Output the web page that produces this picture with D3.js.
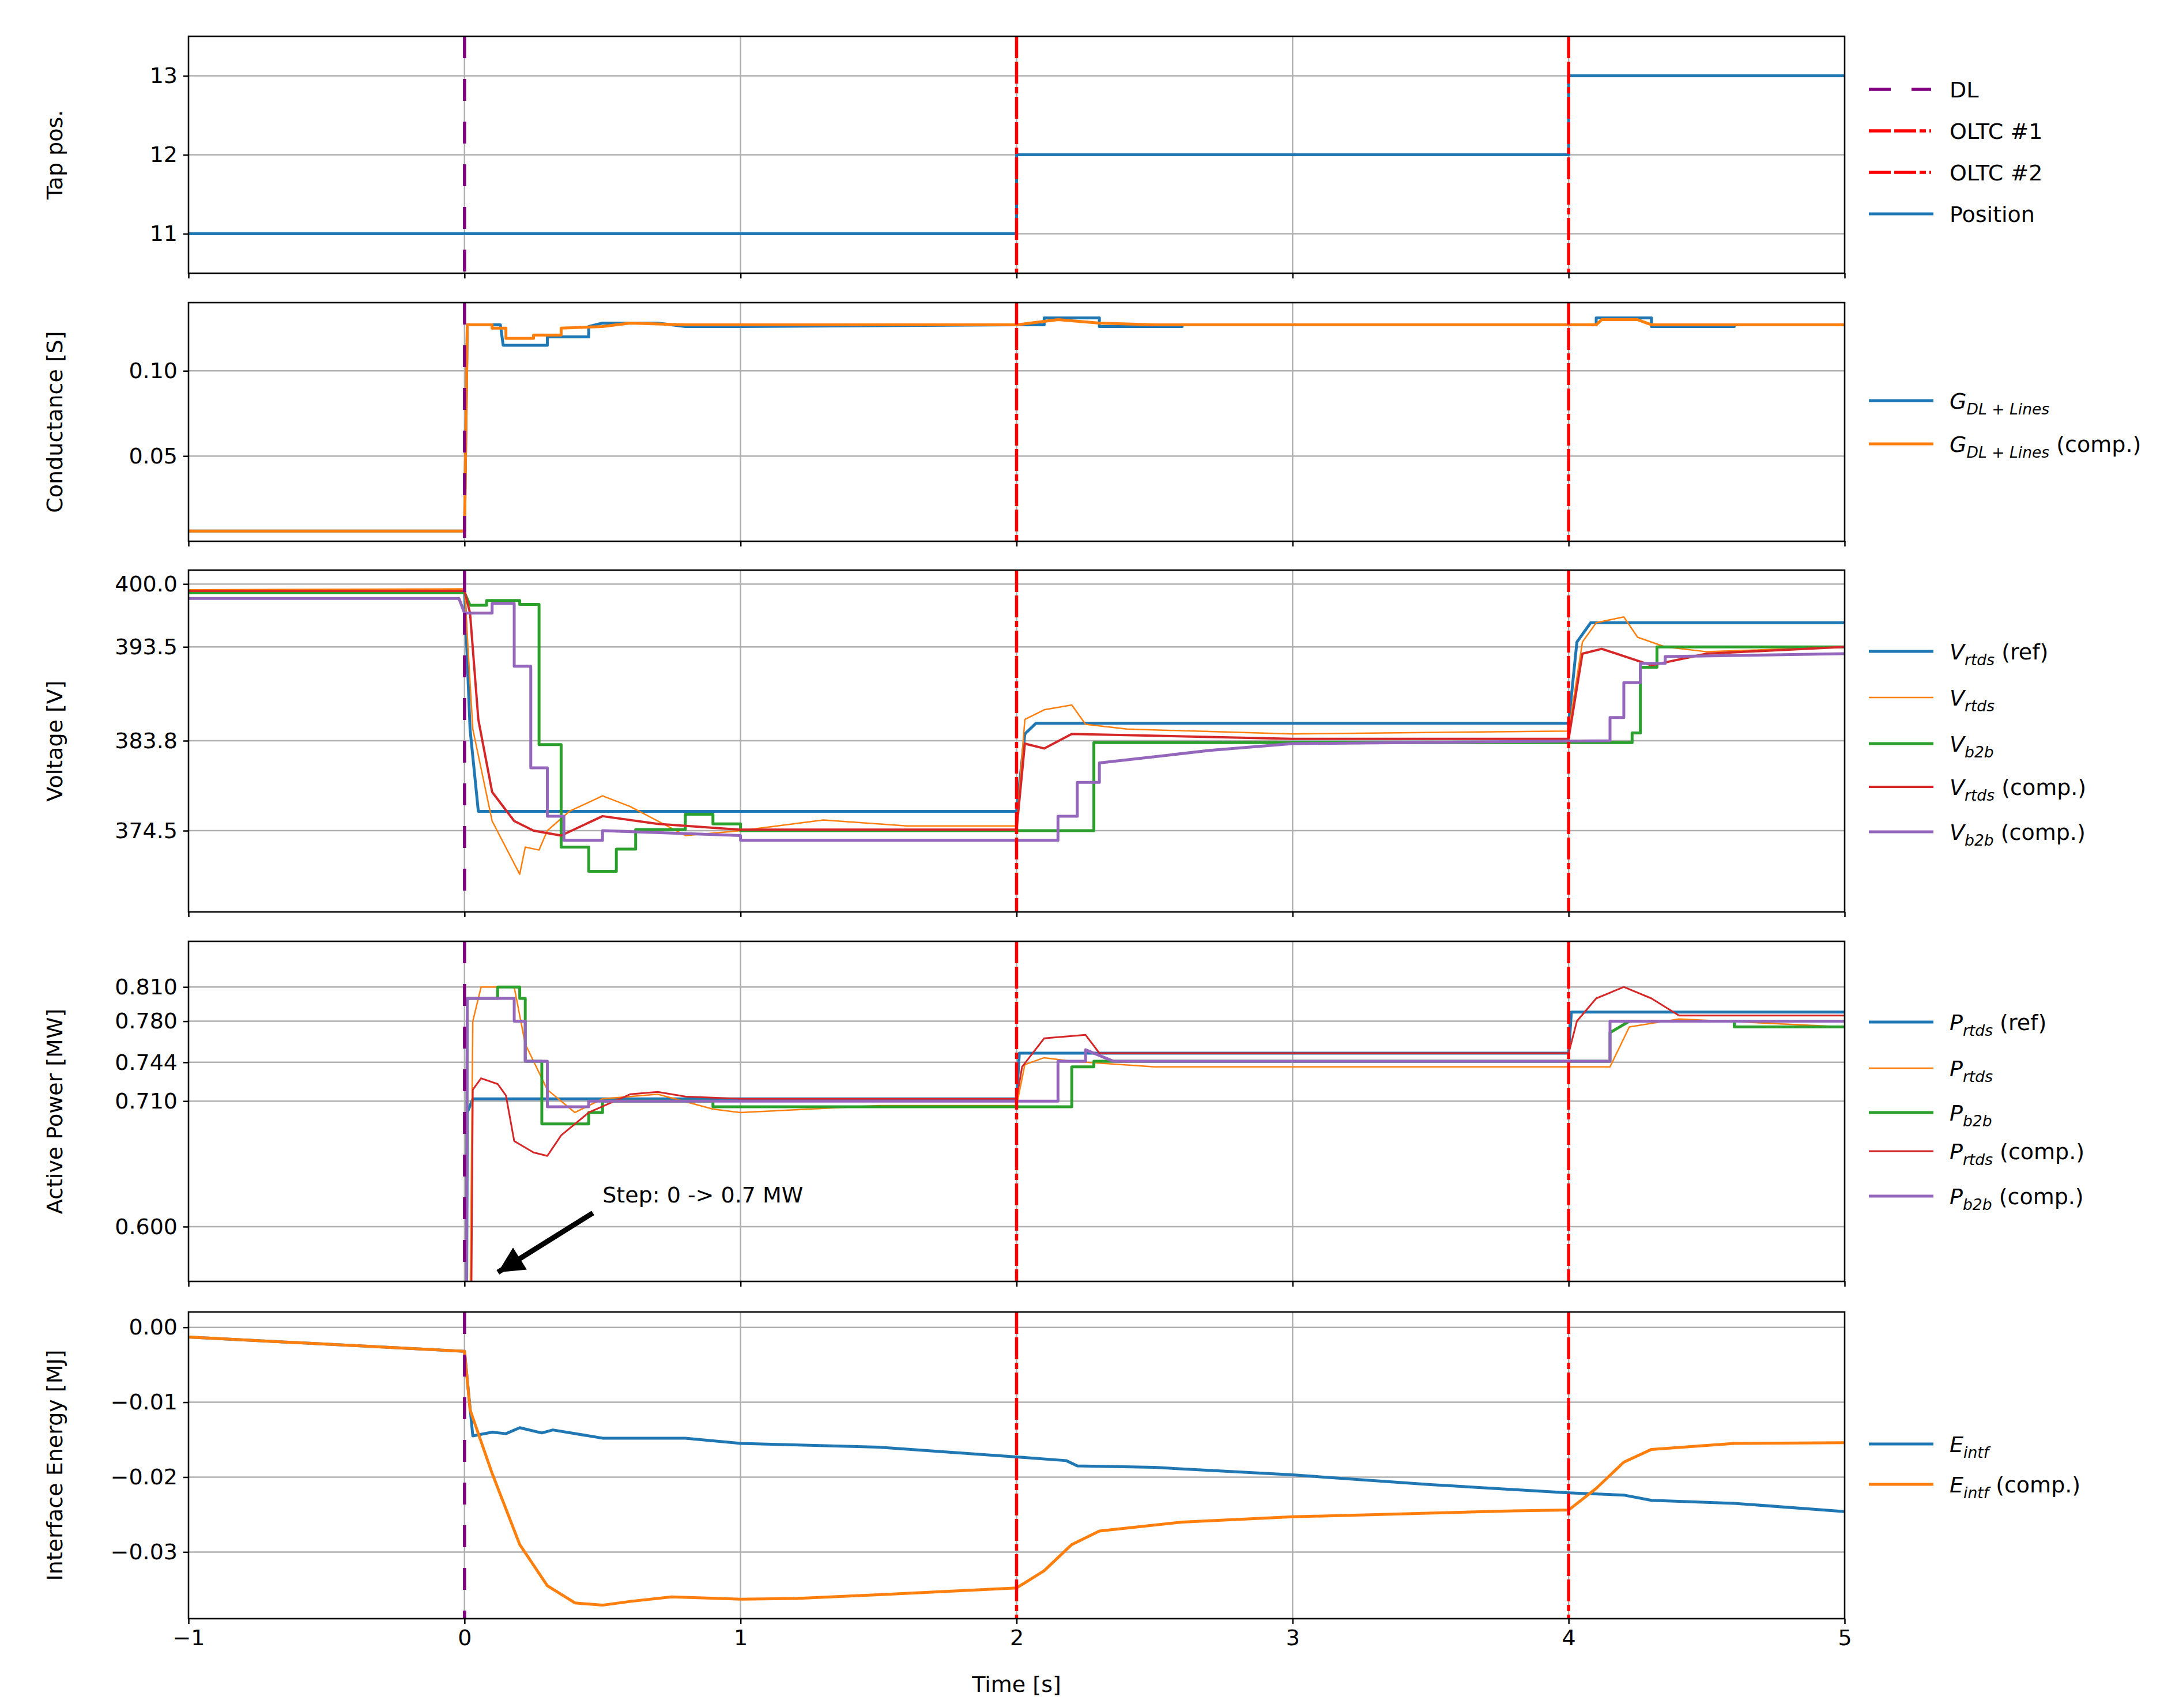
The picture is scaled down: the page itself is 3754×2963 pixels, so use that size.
<!DOCTYPE html>
<html><head><meta charset="utf-8">
<script src="https://cdn.jsdelivr.net/npm/d3@7"></script>
<style>body{margin:0;background:#fff}text{font-family:"DejaVu Sans",sans-serif}</style>
</head><body>
<svg id="c" width="3754" height="2963"></svg>
<script>
// ---- data ----
const xTicks = [-1, 0, 1, 2, 3, 4, 5];
const events = [{t: 0, name: "DL"}, {t: 2, name: "OLTC #1"}, {t: 4, name: "OLTC #2"}];

const tapPos = [[-1,11],[2,11],[2,12],[4,12],[4,13],[5,13]];

const gBlue = [[-1,0.006],[0,0.006],[0.01,0.127],[0.13,0.127],[0.14,0.115],[0.3,0.115],[0.3,0.12],[0.45,0.12],[0.45,0.126],[0.5,0.128],[0.7,0.128],[0.8,0.126],[1.0,0.126],[2.0,0.127],[2.1,0.127],[2.1,0.131],[2.3,0.131],[2.3,0.126],[2.6,0.126],[2.6,0.127],[4.1,0.127],[4.1,0.131],[4.3,0.131],[4.3,0.126],[4.6,0.126],[4.6,0.127],[5,0.127]];
const gOrange = [[-1,0.006],[0,0.006],[0.01,0.127],[0.1,0.127],[0.1,0.125],[0.15,0.125],[0.15,0.119],[0.25,0.119],[0.25,0.121],[0.35,0.121],[0.35,0.125],[0.5,0.126],[0.6,0.128],[0.8,0.127],[2.0,0.127],[2.05,0.128],[2.15,0.130],[2.3,0.128],[2.5,0.127],[4.1,0.127],[4.12,0.130],[4.25,0.130],[4.3,0.127],[5,0.127]];

const vTicks = [400.0, 393.5, 383.8, 374.5];
const vRef = [[-1,399.3],[0,399.3],[0.02,385],[0.05,376.5],[2.0,376.5],[2.03,384.5],[2.07,385.6],[4.0,385.6],[4.03,394],[4.08,396],[5,396]];
const vRtds = [[-1,399.4],[0,399.5],[0.03,385],[0.1,375.5],[0.2,370],[0.22,372.8],[0.27,372.5],[0.3,374.5],[0.38,376.5],[0.5,378.1],[0.6,377],[0.8,374],[1.0,374.5],[1.3,375.6],[1.6,375],[2.0,375],[2.03,386],[2.1,387],[2.2,387.5],[2.25,385.5],[2.4,385],[3.0,384.5],[4.0,384.8],[4.05,394],[4.1,396],[4.2,396.6],[4.25,394.5],[4.35,393.5],[4.5,393],[5,393.5]];
const vB2b = [[-1,399.1],[0,399.1],[0.02,397.8],[0.08,397.8],[0.08,398.3],[0.2,398.3],[0.2,397.9],[0.27,397.9],[0.27,383.4],[0.35,383.4],[0.35,372.8],[0.45,372.8],[0.45,370.3],[0.55,370.3],[0.55,372.6],[0.62,372.6],[0.62,374.6],[0.8,374.6],[0.8,376.2],[0.9,376.2],[0.9,375.2],[1.0,375.2],[1.0,374.5],[2.28,374.5],[2.28,383.6],[4.23,383.6],[4.23,384.6],[4.26,384.6],[4.26,391.4],[4.32,391.4],[4.32,393.5],[5,393.5]];
const vRtdsC = [[-1,399.3],[0,399.3],[0.02,397],[0.05,386],[0.1,378.5],[0.18,375.5],[0.25,374.5],[0.35,374],[0.5,376],[0.7,375.2],[1.0,374.6],[2.0,374.6],[2.03,383.5],[2.1,383],[2.2,384.5],[3.0,384],[4.0,384],[4.05,392.8],[4.12,393.3],[4.3,391.6],[4.5,392.8],[5,393.5]];
const vB2bC = [[-1,398.5],[-0.02,398.5],[0.0,397],[0.1,397],[0.1,398],[0.18,398],[0.18,391.5],[0.24,391.5],[0.24,381],[0.3,381],[0.3,376],[0.36,376],[0.36,373.5],[0.5,373.5],[0.5,374.5],[1.0,374],[1.0,373.5],[2.15,373.5],[2.15,376],[2.22,376],[2.22,379.5],[2.3,379.5],[2.3,381.5],[2.7,382.8],[3.0,383.5],[4.15,383.8],[4.15,386.2],[4.2,386.2],[4.2,389.8],[4.26,389.8],[4.26,391.8],[4.35,391.8],[4.35,392.5],[5,392.8]];

const pTicks = [0.810, 0.780, 0.744, 0.710, 0.600];
const pRef = [[-1,0],[0,0],[0.01,0.700],[0.03,0.712],[2.0,0.712],[2.01,0.752],[4.0,0.752],[4.01,0.788],[5,0.788]];
const pRtds = [[-1,0],[0,0],[0.03,0.78],[0.06,0.81],[0.18,0.81],[0.22,0.76],[0.3,0.72],[0.4,0.70],[0.5,0.712],[0.7,0.716],[0.9,0.703],[1.0,0.700],[1.5,0.706],[2.0,0.706],[2.03,0.742],[2.1,0.748],[2.2,0.745],[2.5,0.740],[4.15,0.740],[4.22,0.775],[4.4,0.782],[5,0.775]];
const pB2b = [[-1,0],[0,0],[0.01,0.80],[0.12,0.80],[0.12,0.81],[0.2,0.81],[0.2,0.80],[0.22,0.80],[0.22,0.745],[0.28,0.745],[0.28,0.69],[0.45,0.69],[0.45,0.70],[0.5,0.70],[0.5,0.71],[0.9,0.71],[0.9,0.705],[2.2,0.705],[2.2,0.74],[2.28,0.74],[2.28,0.745],[4.15,0.745],[4.15,0.77],[4.22,0.78],[4.6,0.78],[4.6,0.775],[5,0.775]];
const pRtdsC = [[-1,0],[0.01,0],[0.03,0.72],[0.06,0.73],[0.12,0.725],[0.15,0.715],[0.18,0.675],[0.25,0.665],[0.3,0.662],[0.35,0.68],[0.45,0.70],[0.6,0.716],[0.7,0.718],[0.8,0.714],[1.0,0.712],[2.0,0.712],[2.02,0.74],[2.1,0.765],[2.25,0.768],[2.3,0.752],[4.0,0.752],[4.03,0.78],[4.1,0.80],[4.2,0.81],[4.3,0.80],[4.4,0.785],[5,0.785]];
const pB2bC = [[-1,0],[0,0],[0.01,0.80],[0.18,0.80],[0.18,0.78],[0.22,0.78],[0.22,0.745],[0.3,0.745],[0.3,0.705],[0.45,0.705],[0.45,0.71],[2.15,0.71],[2.15,0.745],[2.25,0.745],[2.25,0.755],[2.35,0.745],[4.15,0.745],[4.15,0.78],[5,0.78]];

const eTicks = [0.00, -0.01, -0.02, -0.03];
const eIntf = [[-1,-0.0013],[0,-0.0032],[0.03,-0.0145],[0.1,-0.014],[0.15,-0.0142],[0.2,-0.0134],[0.28,-0.0141],[0.32,-0.0137],[0.5,-0.0148],[0.8,-0.0148],[1.0,-0.0155],[1.5,-0.016],[2.0,-0.0173],[2.18,-0.0178],[2.22,-0.0185],[2.5,-0.0187],[3.0,-0.0197],[3.5,-0.021],[4.0,-0.0221],[4.2,-0.0224],[4.3,-0.0231],[4.6,-0.0235],[5,-0.0246]];
const eIntfC = [[-1,-0.0013],[0,-0.0032],[0.02,-0.011],[0.1,-0.0195],[0.2,-0.029],[0.3,-0.0345],[0.4,-0.0368],[0.5,-0.0371],[0.6,-0.0366],[0.75,-0.036],[1.0,-0.0363],[1.2,-0.0362],[1.5,-0.0357],[2.0,-0.0348],[2.1,-0.0325],[2.2,-0.029],[2.3,-0.0272],[2.6,-0.026],[3.0,-0.0253],[3.8,-0.0245],[4.0,-0.0244],[4.1,-0.0215],[4.2,-0.018],[4.3,-0.0163],[4.6,-0.0155],[5,-0.0154]];

// ---- layout ----
const C = {blue:"#1f77b4", orange:"#ff7f0e", green:"#2ca02c", red:"#d62728", purple:"#9467bd"};
const left = 327, right = 3200, fs = 38, sub = 10;
const svg = d3.select("#c");
const x = d3.scaleLinear().domain([-1, 5]).range([left, right]);
const fmtMinus = s => s.replace("-", "\u2212");

const panels = [
  {top:63, bottom:474, dom:[10.5,13.5], ticks:[11,12,13], fmt:d3.format("d"), label:"Tap pos.",
   series:[{d:tapPos, c:C.blue, w:5, name:[["Position"]]}],
   legendY:[155,227,299,371], events:true},
  {top:525, bottom:939, dom:[0,0.14], ticks:[0.05,0.10], fmt:d3.format(".2f"), label:"Conductance [S]",
   series:[{d:gBlue, c:C.blue, w:5, name:[["G","i"],["DL + Lines","s"]]},
           {d:gOrange, c:C.orange, w:5, name:[["G","i"],["DL + Lines","s"],[" (comp.)"]]}],
   legendY:[695,770]},
  {top:989, bottom:1582, dom:[366.1,401.44], ticks:vTicks, fmt:d3.format(".1f"), label:"Voltage [V]",
   series:[{d:vRef, c:C.blue, w:5, name:[["V","i"],["rtds","s"],[" (ref)"]]},
           {d:vRtds, c:C.orange, w:2.5, name:[["V","i"],["rtds","s"]]},
           {d:vB2b, c:C.green, w:5, name:[["V","i"],["b2b","s"]]},
           {d:vRtdsC, c:C.red, w:4, name:[["V","i"],["rtds","s"],[" (comp.)"]]},
           {d:vB2bC, c:C.purple, w:5, name:[["V","i"],["b2b","s"],[" (comp.)"]]}],
   legendY:[1130,1210,1290,1365,1443]},
  {top:1633, bottom:2223, dom:[0.552,0.850], ticks:pTicks, fmt:d3.format(".3f"), label:"Active Power [MW]",
   series:[{d:pRef, c:C.blue, w:5, name:[["P","i"],["rtds","s"],[" (ref)"]]},
           {d:pRtds, c:C.orange, w:2.5, name:[["P","i"],["rtds","s"]]},
           {d:pB2b, c:C.green, w:5, name:[["P","i"],["b2b","s"]]},
           {d:pRtdsC, c:C.red, w:3, name:[["P","i"],["rtds","s"],[" (comp.)"]]},
           {d:pB2bC, c:C.purple, w:5, name:[["P","i"],["b2b","s"],[" (comp.)"]]}],
   legendY:[1773,1853,1930,1997,2075]},
  {top:2276, bottom:2808, dom:[-0.0389,0.00205], ticks:eTicks, fmt:v => fmtMinus(d3.format(".2f")(v)), label:"Interface Energy [MJ]",
   series:[{d:eIntf, c:C.blue, w:5, name:[["E","i"],["intf","s"]]},
           {d:eIntfC, c:C.orange, w:5, name:[["E","i"],["intf","s"],[" (comp.)"]]}],
   legendY:[2505,2575], xAxis:true}
];

function legendText(g, parts, lx, ly) {
  const t = g.append("text").attr("x", lx).attr("y", ly + fs * 0.36).attr("font-size", fs);
  let lowered = false;
  parts.forEach(p => {
    const s = t.append("tspan").text(p[0]);
    if (p[1] === "s") {
      s.attr("font-style", "italic").attr("font-size", fs * 0.7).attr("dy", sub);
      lowered = true;
    } else {
      if (p[1] === "i") s.attr("font-style", "italic");
      if (lowered) { s.attr("dy", -sub); lowered = false; }
    }
  });
}

const evStyle = e => e.t === 0 ? {c:"purple", dash:"38,36"} : {c:"red", dash:"38,6,38,6,11,6"};

panels.forEach((p, pi) => {
  const y = d3.scaleLinear().domain(p.dom).range([p.bottom, p.top]);
  const g = svg.append("g");
  const clipId = "clip" + pi;
  g.append("clipPath").attr("id", clipId).append("rect")
    .attr("x", left).attr("y", p.top).attr("width", right - left).attr("height", p.bottom - p.top);

  // grid
  g.append("g").selectAll("line").data(xTicks.slice(1, -1)).join("line")
    .attr("x1", d => x(d)).attr("x2", d => x(d)).attr("y1", p.top).attr("y2", p.bottom)
    .attr("stroke", "#b0b0b0").attr("stroke-width", 2.5);
  g.append("g").selectAll("line").data(p.ticks).join("line")
    .attr("x1", left).attr("x2", right).attr("y1", d => y(d)).attr("y2", d => y(d))
    .attr("stroke", "#b0b0b0").attr("stroke-width", 2.5);

  const plot = g.append("g").attr("clip-path", `url(#${clipId})`);
  const line = d3.line().x(d => x(d[0])).y(d => y(d[1]));
  p.series.forEach(s => plot.append("path").attr("d", line(s.d)).attr("fill", "none")
    .attr("stroke", s.c).attr("stroke-width", s.w).attr("stroke-linejoin", "round"));

  events.forEach(e => {
    const st = evStyle(e);
    plot.append("line").attr("x1", x(e.t)).attr("x2", x(e.t)).attr("y1", p.top).attr("y2", p.bottom)
      .attr("stroke", st.c).attr("stroke-width", 5.5).attr("stroke-dasharray", st.dash);
  });

  // axes
  const ya = g.append("g").attr("transform", `translate(${left},0)`)
    .call(d3.axisLeft(y).tickValues(p.ticks).tickFormat(p.fmt).tickSize(9).tickPadding(10));
  ya.select(".domain").remove();
  ya.selectAll("line").attr("stroke-width", 2.5);
  ya.selectAll("text").attr("font-size", fs).attr("font-family", "DejaVu Sans");
  const xa = g.append("g").attr("transform", `translate(0,${p.bottom})`)
    .call(d3.axisBottom(x).tickValues(xTicks).tickFormat(p.xAxis ? (d => fmtMinus(String(d))) : "").tickSize(9).tickPadding(10));
  xa.select(".domain").remove();
  xa.selectAll("line").attr("stroke-width", 2.5);
  xa.selectAll("text").attr("font-size", fs).attr("font-family", "DejaVu Sans");

  g.append("rect").attr("x", left).attr("y", p.top).attr("width", right - left).attr("height", p.bottom - p.top)
    .attr("fill", "none").attr("stroke", "#000").attr("stroke-width", 2.6);

  g.append("text").attr("transform", `translate(${108},${(p.top + p.bottom) / 2}) rotate(-90)`)
    .attr("text-anchor", "middle").attr("font-size", fs).text(p.label);

  // legend
  const lg = svg.append("g");
  let items = p.series.map(s => ({c:s.c, w:s.w, dash:null, name:s.name}));
  if (p.events) items = events.map(e => ({c:evStyle(e).c, w:5.5, dash:evStyle(e).dash, name:[[e.name]]})).concat(items);
  items.forEach((it, i) => {
    const ly = p.legendY[i];
    lg.append("line").attr("x1", 3242).attr("x2", it.dash ? 3350 : 3354).attr("y1", ly).attr("y2", ly)
      .attr("stroke", it.c).attr("stroke-width", it.w).attr("stroke-dasharray", it.dash);
    legendText(lg, it.name, 3382, ly);
  });

  if (p.xAxis) {
    g.append("text").attr("x", (left + right) / 2).attr("y", 2935).attr("text-anchor", "middle")
      .attr("font-size", fs).text("Time [s]");
  }

  if (pi === 3) {
    svg.append("defs").append("marker").attr("id", "ah").attr("viewBox", "0 0 10 10")
      .attr("refX", 10).attr("refY", 5).attr("markerWidth", 70).attr("markerHeight", 45)
      .attr("markerUnits", "userSpaceOnUse").attr("orient", "auto")
      .append("path").attr("d", "M0,0L10,5L0,10z");
    g.append("line").attr("x1", x(0.465)).attr("y1", y(0.612)).attr("x2", x(0.121)).attr("y2", y(0.560))
      .attr("stroke", "#000").attr("stroke-width", 9).attr("marker-end", "url(#ah)");
    g.append("text").attr("x", x(0.5)).attr("y", y(0.628) + 13).attr("font-size", fs).text("Step: 0 -> 0.7 MW");
  }
});
</script>
</body></html>
